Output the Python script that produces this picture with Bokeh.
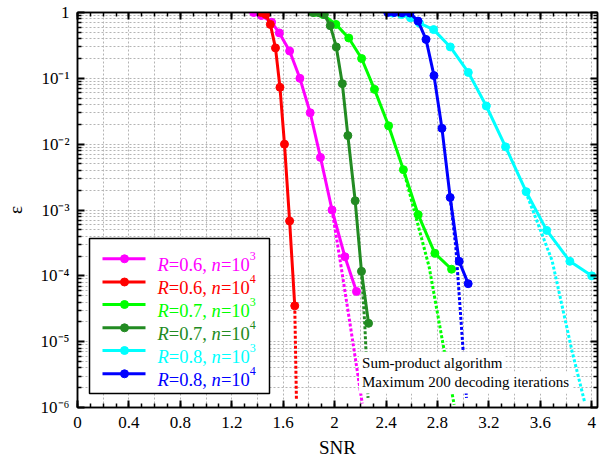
from bokeh.plotting import figure
from bokeh.models import (Range1d, LinearAxis, LogAxis, FixedTicker,
                          CustomJSTickFormatter, Label, LinearScale, ColumnDataSource)
from bokeh.core.properties import value, field
from bokeh.embed import file_html
from bokeh.resources import INLINE

# ---------------- data ----------------
snr_r06_n3 = [1.37, 1.43, 1.51, 1.57, 1.65, 1.73, 1.81, 1.89, 1.98, 2.08, 2.17]
eps_r06_n3 = [1.0, 0.90, 0.71, 0.49, 0.26, 0.10, 0.030, 6.3e-3, 1.0e-3, 1.95e-4, 5.8e-5]

snr_r06_n4 = [1.43, 1.465, 1.50, 1.54, 1.575, 1.61, 1.65, 1.69]
eps_r06_n4 = [1.0, 0.93, 0.66, 0.29, 0.073, 0.010, 6.8e-4, 3.5e-5]

snr_r07_n3 = [1.845, 1.91, 2.01, 2.11, 2.21, 2.31, 2.42, 2.535, 2.65, 2.78, 2.91]
eps_r07_n3 = [1.0, 0.93, 0.66, 0.41, 0.20, 0.068, 0.019, 4.1e-3, 8.5e-4, 2.2e-4, 1.26e-4]

snr_r07_n4 = [1.83, 1.88, 1.92, 1.966, 2.013, 2.06, 2.103, 2.16, 2.209, 2.264]
eps_r07_n4 = [1.0, 0.99, 0.93, 0.63, 0.30, 0.083, 0.0135, 1.38e-3, 1.17e-4, 1.9e-5]

snr_r08_n3 = [2.45, 2.52, 2.59, 2.66, 2.77, 2.90, 3.04, 3.18, 3.33, 3.49, 3.65, 3.83, 4.0]
eps_r08_n3 = [0.98, 0.93, 0.83, 0.69, 0.55, 0.30, 0.123, 0.038, 9.1e-3, 1.9e-3, 4.9e-4, 1.66e-4, 1.0e-4]

snr_r08_n4 = [2.413, 2.465, 2.525, 2.587, 2.649, 2.711, 2.773, 2.835, 2.899, 2.969, 3.039]
eps_r08_n4 = [1.0, 1.0, 0.99, 0.98, 0.74, 0.39, 0.11, 0.0174, 1.55e-3, 1.66e-4, 7.6e-5]

# dotted (asymptotic) continuations
asy_snr_r06_n3 = [1.98, 2.05, 2.116, 2.215]
asy_eps_r06_n3 = [1.0e-3, 1.4e-4, 2.1e-5, 1.15e-6]
asy_snr_r06_n4 = [1.69, 1.703]
asy_eps_r06_n4 = [3.5e-5, 1.3e-6]
asy_snr_r07_n3 = [2.535, 2.736, 2.853, 2.93]
asy_eps_r07_n3 = [4.1e-3, 1.35e-4, 7.2e-6, 1.1e-6]
asy_snr_r07_n4 = [2.209, 2.235, 2.26]
asy_eps_r07_n4 = [1.17e-4, 1.8e-5, 1.4e-6]
asy_snr_r08_n3 = [3.486, 3.692, 3.847, 3.943]
asy_eps_r08_n3 = [1.9e-3, 1.7e-4, 7.2e-6, 1.25e-6]
asy_snr_r08_n4 = [2.899, 2.943, 3.0, 3.026]
asy_eps_r08_n4 = [1.55e-3, 2.7e-4, 7.2e-6, 1.4e-6]

legend_rates = ["0.6", "0.6", "0.7", "0.7", "0.8", "0.8"]
legend_exps = ["3", "4", "3", "4", "3", "4"]
series_colors = ["#ff00ff", "#ff0000", "#00ff00", "#228b22", "#00ffff", "#0000ff"]

x_ticks = [0, 0.4, 0.8, 1.2, 1.6, 2, 2.4, 2.8, 3.2, 3.6, 4]
x_tick_labels = ["0", "0.4", "0.8", "1.2", "1.6", "2", "2.4", "2.8", "3.2", "3.6", "4"]
x_minor = [round(0.1 * i, 1) for i in range(41)]
x_grid = [round(0.2 * i, 1) for i in range(21)]
y_ticks = [1e-6, 1e-5, 1e-4, 1e-3, 1e-2, 1e-1, 1]
y_tick_labels = ["10⁻⁶", "10⁻⁵", "10⁻⁴", "10⁻³", "10⁻²", "10⁻¹", "1"]
y_minor = [m * 10.0 ** e for e in range(-6, 0) for m in range(2, 10)]

series = [
    (snr_r06_n3, eps_r06_n3, asy_snr_r06_n3, asy_eps_r06_n3),
    (snr_r06_n4, eps_r06_n4, asy_snr_r06_n4, asy_eps_r06_n4),
    (snr_r07_n3, eps_r07_n3, asy_snr_r07_n3, asy_eps_r07_n3),
    (snr_r07_n4, eps_r07_n4, asy_snr_r07_n4, asy_eps_r07_n4),
    (snr_r08_n3, eps_r08_n3, asy_snr_r08_n3, asy_eps_r08_n3),
    (snr_r08_n4, eps_r08_n4, asy_snr_r08_n4, asy_eps_r08_n4),
]

FONT = "Liberation Serif"
FW, FH = 520, 395

p = figure(frame_width=FW, frame_height=FH,
           x_range=Range1d(0, 4.045), y_range=Range1d(1e-6, 1),
           y_axis_type="log", output_backend="svg", toolbar_location=None,
           min_border_left=77, min_border_right=2, min_border_top=12, min_border_bottom=55,
           background_fill_color="white", border_fill_color="white",
           outline_line_color="black", outline_line_width=1.5)

xticker = FixedTicker(ticks=x_ticks, minor_ticks=x_minor)
yticker = FixedTicker(ticks=y_ticks, minor_ticks=y_minor)

xfmt = CustomJSTickFormatter(args=dict(tv=x_ticks, lb=x_tick_labels), code="""
let k = 0, best = Infinity;
for (let i = 0; i < tv.length; i++) { const d = Math.abs(tv[i] - tick); if (d < best) { best = d; k = i; } }
return best < 1e-6 ? lb[k] : "";
""")
yfmt = CustomJSTickFormatter(args=dict(tv=y_ticks, lb=y_tick_labels), code="""
let k = 0, best = Infinity;
for (let i = 0; i < tv.length; i++) { const d = Math.abs(Math.log10(tv[i]) - Math.log10(tick)); if (d < best) { best = d; k = i; } }
return best < 1e-6 ? lb[k] : "";
""")
blank = CustomJSTickFormatter(code="return '';")


def style_axis(ax):
    ax.axis_line_color = "black"
    ax.axis_line_width = 1.5
    ax.major_tick_in = 7
    ax.major_tick_out = 0
    ax.minor_tick_in = 4
    ax.minor_tick_out = 0
    ax.major_tick_line_width = 2
    ax.minor_tick_line_width = 1.5
    ax.major_tick_line_color = "black"
    ax.minor_tick_line_color = "black"
    ax.major_label_text_font = FONT
    ax.major_label_text_font_size = "17px"
    ax.major_label_text_color = "black"
    ax.axis_label_text_font = FONT
    ax.axis_label_text_font_size = "19px"
    ax.axis_label_text_font_style = "normal"
    ax.axis_label_text_color = "black"


xa = p.xaxis[0]
xa.ticker = xticker
xa.formatter = xfmt
style_axis(xa)
xa.axis_label = "SNR"
xa.major_label_standoff = 9
xa.axis_label_standoff = 6

ya = p.yaxis[0]
ya.ticker = yticker
ya.formatter = yfmt
style_axis(ya)
ya.axis_label = "ε"
ya.major_label_standoff = 8
ya.axis_label_standoff = 12

top = LinearAxis(ticker=xticker, formatter=blank)
style_axis(top)
top.major_label_standoff = 0
p.add_layout(top, "above")

right = LogAxis(ticker=yticker, formatter=blank)
style_axis(right)
right.major_label_standoff = 0
p.add_layout(right, "right")

p.xgrid.ticker = FixedTicker(ticks=x_grid)
for g in (p.xgrid[0], p.ygrid[0]):
    g.grid_line_color = "#b4b4b4"
    g.grid_line_dash = "2 2"
    g.grid_line_width = 1
p.ygrid.minor_grid_line_color = "#b4b4b4"
p.ygrid.minor_grid_line_dash = "2 2"
p.ygrid.minor_grid_line_width = 1

# ---------------- curves ----------------
for (sx, sy, ax_, ay_), col in zip(series, series_colors):
    p.line(ax_, ay_, line_color=col, line_width=3, line_dash="3 2")
    p.line(sx, sy, line_color=col, line_width=3)
    p.scatter(sx, sy, size=8, fill_color=col, line_color=col)

# ---------------- annotation text ----------------
for txt, yv in [("Sum-product algorithm", 4.8e-6), ("Maximum 200 decoding iterations", 2.4e-6)]:
    p.add_layout(Label(x=2.19, y=yv, text=txt, text_font=FONT, text_font_size="15px",
                       text_baseline="middle", text_color="black",
                       background_fill_color="white", padding=3))

# ---------------- legend (drawn in frame pixel space) ----------------
p.extra_x_ranges = {"lx": Range1d(0, FW)}
p.extra_y_ranges = {"ly": Range1d(0, FH)}
p.extra_x_scales = {"lx": LinearScale()}
p.extra_y_scales = {"ly": LinearScale()}

row_y = [148.7, 125.5, 103, 79.7, 57, 33.7]
lg = ColumnDataSource(dict(
    y=row_y,
    yb=[r - 6 for r in row_y],
    ys=[r + 3 for r in row_y],
    color=series_colors,
    rate=["=" + r + ", " for r in legend_rates],
    exp=legend_exps,
))
kw = dict(x_range_name="lx", y_range_name="ly")
p.quad(left=12, right=192, bottom=14, top=169, fill_color="white",
       line_color="black", line_width=1.5, **kw)
p.segment(x0=25, x1=68, y0="y", y1="y", line_color=field("color"), line_width=3,
          source=lg, **kw)
p.scatter(x=47, y="y", size=8, fill_color=field("color"), line_color=field("color"),
          source=lg, **kw)

tx = 80
tkw = dict(text_font=value(FONT), text_color=field("color"), text_baseline="alphabetic",
           text_align="left", source=lg, **kw)
p.text(x=tx, y="yb", text=value("R"), text_font_size=value("18.5px"),
       text_font_style="italic", **tkw)
p.text(x=tx + 11.3, y="yb", text=field("rate"), text_font_size=value("18.5px"), **tkw)
p.text(x=tx + 54.1, y="yb", text=value("n"), text_font_size=value("18.5px"),
       text_font_style="italic", **tkw)
p.text(x=tx + 63.4, y="yb", text=value("=10"), text_font_size=value("18.5px"), **tkw)
p.text(x=tx + 92.3, y="ys", text=field("exp"), text_font_size=value("12px"), **tkw)

open("out.html", "w").write(file_html(p, INLINE))
